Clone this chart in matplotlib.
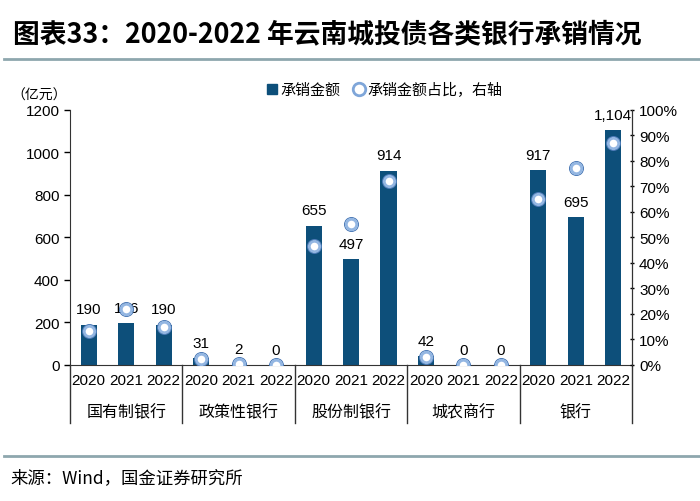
import matplotlib.pyplot as plt
from matplotlib.lines import Line2D

plt.rcParams['font.family'] = ['Liberation Sans', 'Noto Sans CJK SC', 'DejaVu Sans']

# data
groups = ["国有制银行", "政策性银行", "股份制银行", "城农商行", "银行"]
years = ["2020", "2021", "2022"]
amount = [190, 196, 190, 31, 2, 0, 655, 497, 914, 42, 0, 0, 917, 695, 1104]
share = [13.5, 21.8, 15.0, 2.2, 0.2, 0.0, 46.6, 55.3, 72.1, 3.0, 0.0, 0.0, 65.2, 77.3, 87.1]

bar_color = "#0d4f7a"
rule_color = "#8ea7ae"

fig = plt.figure(figsize=(7, 5.02), dpi=100)
ax = fig.add_axes([0.1, 0.271, 0.803, 0.508])
ax2 = ax.twinx()

x = list(range(len(amount)))
ax.bar(x, amount, width=0.43, color=bar_color, zorder=2)
for xi, v in zip(x, amount):
    ax.annotate(f"{v:,}", (xi, v), xytext=(0, 6), textcoords="offset points",
                ha="center", va="bottom", fontsize=11)

ax.set_xlim(-0.5, len(amount) - 0.5)
ax.set_ylim(0, 1200)
ax.set_yticks(range(0, 1201, 200))
ax.tick_params(axis="y", labelsize=11, length=4, width=1)
ax.set_xticks(x)
ax.set_xticklabels(years * len(groups), fontsize=11)
ax.tick_params(axis="x", length=0, pad=6)
for s in ["top"]:
    ax.spines[s].set_visible(False)
    ax2.spines[s].set_visible(False)
for s in ["left", "bottom"]:
    ax.spines[s].set_color("#333333")
ax2.spines["right"].set_color("#333333")
ax2.spines["left"].set_visible(False)
ax2.spines["bottom"].set_visible(False)

# group separators and names
trans = ax.get_xaxis_transform()
for k in range(len(groups) + 1):
    xs = k * 3 - 0.5
    ax.plot([xs, xs], [0, -0.227], transform=trans, color="#333333", lw=1, clip_on=False)
for k, g in enumerate(groups):
    ax.text(k * 3 + 1, -0.184, g, transform=trans, ha="center", va="center",
            fontsize=11.5, family=["Noto Sans CJK SC"])

ax2.plot(x, share, ls="none", marker="o", ms=10, mfc="none", mec="#4a78b5", mew=0.8, zorder=3)
ax2.plot(x, share, ls="none", marker="o", ms=7.5, mfc="white", mec="#93b6e2", mew=2, zorder=4)
ax2.set_ylim(0, 100)
ax2.set_yticks(range(0, 101, 10))
ax2.set_yticklabels([f"{v}%" for v in range(0, 101, 10)])
ax2.tick_params(axis="y", labelsize=11, length=3, width=1, direction="inout")

ax.text(-0.055, 1.06, "（亿元）", transform=ax.transAxes, ha="center", va="center",
        fontsize=10, family=["Noto Sans CJK SC"])

h1 = Line2D([], [], ls="none", marker="s", ms=7, color=bar_color)
h2 = Line2D([], [], ls="none", marker="o", ms=9, mfc="white", mec="#7fa6d9", mew=2)
leg = fig.legend([h1, h2], ["承销金额", "承销金额占比，右轴"], loc="center",
                 bbox_to_anchor=(0.549, 0.82), ncol=2, frameon=False,
                 handlelength=0.8, handletextpad=0.2, columnspacing=0.8,
                 prop={"family": "Noto Sans CJK SC", "size": 10.8})

fig.text(0.018, 0.932, "图表33：2020-2022 年云南城投债各类银行承销情况", fontsize=19.3,
         fontweight="bold", style="italic", va="center", family=["Noto Sans CJK SC"])
fig.add_artist(Line2D([0.006, 1.0], [0.881, 0.881], color=rule_color, lw=2))
fig.add_artist(Line2D([0.006, 1.0], [0.09, 0.09], color=rule_color, lw=2))
fig.text(0.015, 0.048, "来源：Wind，国金证券研究所", fontsize=12.5, va="center",
         family=["Noto Sans CJK SC"])

fig.savefig("out.png", dpi=100)
